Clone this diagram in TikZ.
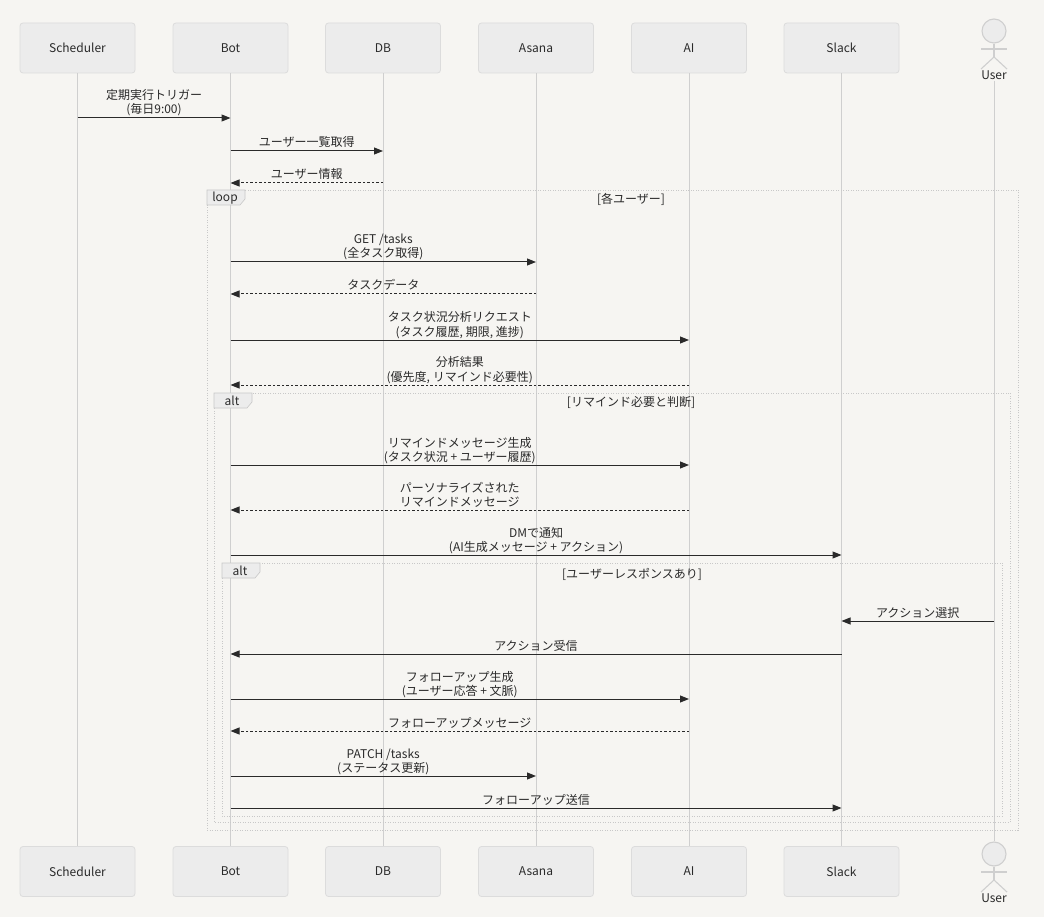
\documentclass[tikz,border=0pt]{standalone}
\usepackage{fontspec}
\setmainfont{Noto Sans CJK JP}
\usetikzlibrary{arrows.meta,calc}
\definecolor{bg}{HTML}{F6F5F2}
\definecolor{boxfill}{HTML}{ECECEC}
\definecolor{boxline}{HTML}{DCDCDC}
\definecolor{lifec}{HTML}{CFCFCF}
\definecolor{ink}{HTML}{2A2A2A}
\definecolor{framec}{HTML}{C8C8C8}
\tikzset{
  part/.style={draw=boxline, fill=boxfill, rounded corners=3pt, minimum width=115pt, minimum height=50pt, font=\fontsize{12}{14}\selectfont, text=ink, line width=0.8pt},
  life/.style={draw=lifec, line width=1pt},
  msgsolid/.style={draw=ink, line width=1pt, -{Triangle[length=9pt,width=7pt]}},
  msgdot/.style={draw=ink, line width=1pt, dash pattern=on 2.5pt off 2pt, -{Triangle[length=9pt,width=7pt]}},
  lbl/.style={font=\fontsize{12}{14}\selectfont, text=ink, align=center, inner sep=0pt, text depth=0pt},
  frameline/.style={draw=framec, line width=0.8pt, dash pattern=on 1pt off 1.5pt},
  flabel/.style={draw=framec, fill=boxfill, line width=0.6pt},
  ftext/.style={font=\fontsize{12}{14}\selectfont, text=ink, inner sep=0pt},
  actorline/.style={draw=lifec, line width=1.1pt},
}
\newcommand\msgarrow[5]{%
  \draw[#4] (#1 |- 0,#3) -- (#2 |- 0,#3) node[pos=0.5, anchor=south, yshift=3.5pt, lbl] {#5};}
\newcommand\actorfig[2]{% #1 name prefix, #2 head center y
  \node[circle, draw=lifec, fill=boxfill, line width=1.1pt, minimum size=24pt, inner sep=0pt] (#1head) at (994,#2) {};
  \draw[actorline] (981,#2+18) -- (1007,#2+18);
  \draw[actorline] (#1head.south) -- (994,#2+26);
  \draw[actorline] (981,#2+38) -- (994,#2+26) -- (1007,#2+38);
  \node[font=\fontsize{12}{14}\selectfont, text=ink, inner sep=1pt] (#1) at (994,#2+44) {User};}
\newcommand\seqframe[4]{%
  \draw[frameline] (#1,#2) rectangle (#3,#4);}
\newcommand\seqframelabel[3]{% x0 y0 text
  \draw[flabel] (#1,#2) -- (#1+38,#2) -- (#1+38,#2+9) -- (#1+33,#2+15) -- (#1,#2+15) -- cycle;
  \node[ftext, anchor=base] at (#1+18,#2+12) {#3};}
\begin{document}
\begin{tikzpicture}[x=1pt,y=-1pt]
\fill[bg] (0,0) rectangle (1044,917);
\useasboundingbox (0,0) rectangle (1044,917);

% participants top
\node[part] (sched) at (77.5,48) {Scheduler};
\node[part] (bot) at (230.5,48) {Bot};
\node[part] (db) at (383,48) {DB};
\node[part] (asana) at (536,48) {Asana};
\node[part] (ai) at (689,48) {AI};
\node[part] (slack) at (841.5,48) {Slack};
% participants bottom
\node[part] (schedB) at (77.5,871.5) {Scheduler};
\node[part] (botB) at (230.5,871.5) {Bot};
\node[part] (dbB) at (383,871.5) {DB};
\node[part] (asanaB) at (536,871.5) {Asana};
\node[part] (aiB) at (689,871.5) {AI};
\node[part] (slackB) at (841.5,871.5) {Slack};
\actorfig{user}{31}
\actorfig{userB}{854}

% lifelines
\draw[life] (sched.south) -- (schedB.north);
\draw[life] (bot.south) -- (botB.north);
\draw[life] (db.south) -- (dbB.north);
\draw[life] (asana.south) -- (asanaB.north);
\draw[life] (ai.south) -- (aiB.north);
\draw[life] (slack.south) -- (slackB.north);
\draw[life] (user.south) -- (userBhead.north);

% frames
\seqframe{207}{190}{1018}{830}
\seqframe{214}{393}{1010}{822}
\seqframe{222}{563}{1002}{816}
\seqframelabel{207}{190}{loop}
\seqframelabel{214}{393}{alt}
\seqframelabel{222}{563}{alt}
\node[ftext] (c1) at (631,199.5) {[各ユーザー]};
\node[ftext] (c2) at (631,402.5) {[リマインド必要と判断]};
\node[ftext] (c3) at (632,574.5) {[ユーザーレスポンスあり]};

% messages
\msgarrow{sched}{bot}{118}{msgsolid}{定期実行トリガー\\(毎日9:00)}
\msgarrow{bot}{db}{151}{msgsolid}{ユーザー一覧取得}
\msgarrow{db}{bot}{183}{msgdot}{ユーザー情報}
\msgarrow{bot}{asana}{262}{msgsolid}{GET /tasks\\(全タスク取得)}
\msgarrow{asana}{bot}{294}{msgdot}{タスクデータ}
\msgarrow{bot}{ai}{340}{msgsolid}{タスク状況分析リクエスト\\(タスク履歴, 期限, 進捗)}
\msgarrow{ai}{bot}{385}{msgdot}{分析結果\\(優先度, リマインド必要性)}
\msgarrow{bot}{ai}{465}{msgsolid}{リマインドメッセージ生成\\(タスク状況 + ユーザー履歴)}
\msgarrow{ai}{bot}{510}{msgdot}{パーソナライズされた\\リマインドメッセージ}
\msgarrow{bot}{slack}{555}{msgsolid}{DMで通知\\(AI生成メッセージ + アクション)}
\msgarrow{user}{slack}{621}{msgsolid}{アクション選択}
\msgarrow{slack}{bot}{654}{msgsolid}{アクション受信}
\msgarrow{bot}{ai}{699}{msgsolid}{フォローアップ生成\\(ユーザー応答 + 文脈)}
\msgarrow{ai}{bot}{731}{msgdot}{フォローアップメッセージ}
\msgarrow{bot}{asana}{776}{msgsolid}{PATCH /tasks\\(ステータス更新)}
\msgarrow{bot}{slack}{808}{msgsolid}{フォローアップ送信}
\end{tikzpicture}
\end{document}
